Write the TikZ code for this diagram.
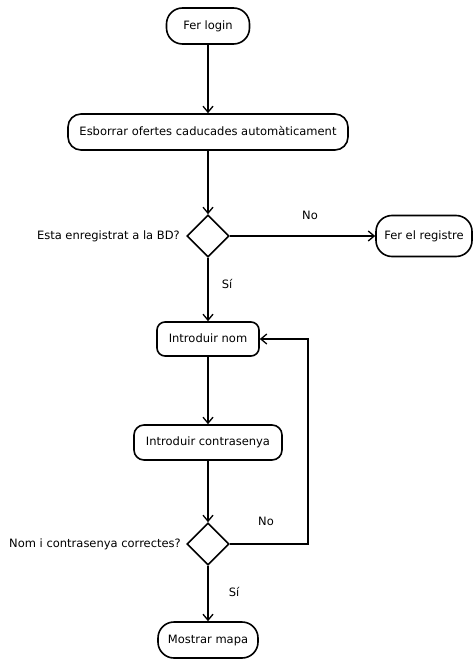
\documentclass[tikz,border=0pt]{standalone}
\usepackage{fontspec}
\setmainfont{DejaVu Sans}
\usetikzlibrary{arrows.meta,shapes.geometric}
\begin{document}
\begin{tikzpicture}[x=1pt,y=-1pt,
  font=\fontsize{11.5}{13}\selectfont,
  act/.style={draw,line width=1.6pt,inner sep=0pt,text height=8.5pt,text depth=2.2pt},
  dec/.style={draw,line width=1.6pt,diamond,minimum width=42pt,minimum height=42pt,inner sep=0pt},
  flow/.style={line width=1.6pt,-{Straight Barb[length=6pt,width=10pt,line width=1.3pt]}},
  lab/.style={inner sep=0pt}]
\useasboundingbox (0,0) rectangle (473,660);
\node[act,rounded corners=16pt,minimum width=83pt,minimum height=36pt] (login) at (208,26) {Fer login};
\node[act,rounded corners=13pt,minimum width=280pt,minimum height=36pt] (esb) at (208,132) {Esborrar ofertes caducades automàticament};
\node[dec] (d1) at (208,236) {};
\node[lab,anchor=east] (q1) at (180,236) {Esta enregistrat a la BD?};
\node[act,rounded corners=16pt,minimum width=96pt,minimum height=41pt] (reg) at (424,236) {Fer el registre};
\node[act,rounded corners=8pt,minimum width=102pt,minimum height=34pt] (nom) at (208,339) {Introduir nom};
\node[act,rounded corners=10pt,minimum width=148pt,minimum height=35pt] (pwd) at (208,442.5) {Introduir contrasenya};
\node[dec] (d2) at (208,544) {};
\node[lab,anchor=east] (q2) at (181,544) {Nom i contrasenya correctes?};
\node[act,rounded corners=16pt,minimum width=100pt,minimum height=36pt] (map) at (208,640) {Mostrar mapa};
\node[lab] (no1) at (310,215) {No};
\node[lab] (si1) at (227,284) {Sí};
\node[lab] (no2) at (266,521) {No};
\node[lab] (si2) at (234,592) {Sí};
\coordinate (c1) at (308,544);
\coordinate (c2) at (308,339);
\draw[flow] (login) -- (esb);
\draw[flow] (esb) -- (d1);
\draw[flow] (d1) -- (reg);
\draw[flow] (d1) -- (nom);
\draw[flow] (nom) -- (pwd);
\draw[flow] (pwd) -- (d2);
\draw[flow] (d2) -- (map);
\draw[flow] (d2.east) -- (c1) -- (c2) -- (nom.east);
\end{tikzpicture}
\end{document}
